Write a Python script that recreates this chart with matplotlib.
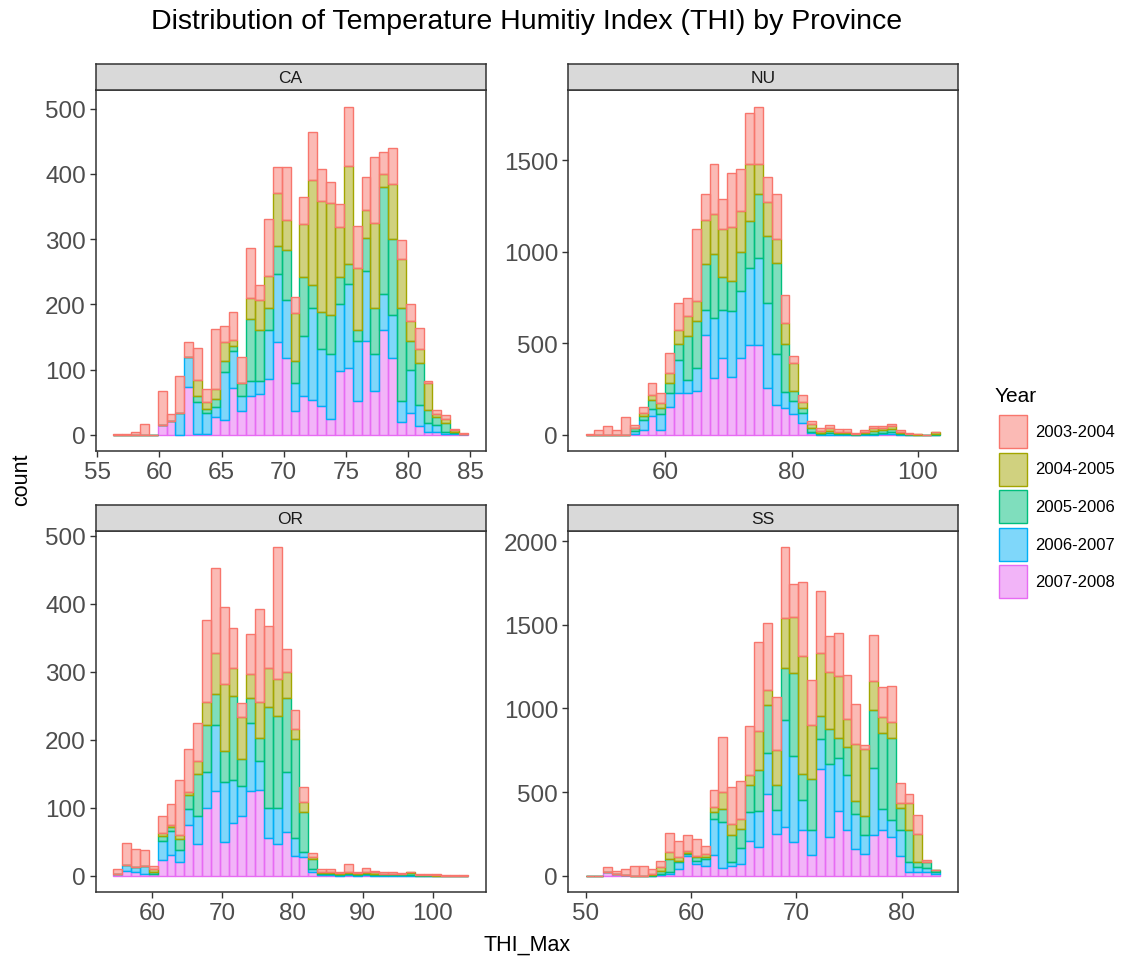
import numpy as np
import matplotlib.pyplot as plt
from matplotlib.colors import to_rgba
from matplotlib.patches import Rectangle

plt.rcParams['font.family'] = ['Liberation Sans', 'DejaVu Sans']

years = ['2003-2004', '2004-2005', '2005-2006', '2006-2007', '2007-2008']
colors = ['#F8766D', '#A3A500', '#00BF7D', '#00B0F6', '#E76BF3']

# 40 bins per province, counts per year
ca_range = (56.3, 84.8)
ca_0304 = [2, 1, 5, 16, 0, 53, 10, 58, 23, 49, 20, 93, 24, 42, 40, 76, 22, 88, 41, 81,
           25, 42, 74, 48, 32, 36, 91, 64, 51, 101, 34, 55, 28, 26, 33, 2, 6, 5, 2, 2]
ca_0405 = [0, 0, 0, 0, 0, 0, 0, 0, 0, 25, 10, 15, 30, 9, 1, 32, 46, 48, 81, 46,
           74, 81, 160, 170, 172, 76, 150, 96, 42, 130, 20, 85, 75, 31, 21, 42, 5, 7, 2, 0]
ca_0506 = [0, 0, 0, 0, 0, 0, 0, 0, 0, 8, 7, 13, 16, 9, 20, 96, 78, 34, 43, 77,
           34, 91, 35, 57, 59, 41, 31, 16, 51, 71, 164, 116, 143, 44, 64, 20, 12, 14, 2, 0]
ca_0607 = [0, 0, 0, 0, 0, 0, 0, 33, 46, 49, 31, 14, 74, 56, 23, 23, 21, 75, 103, 89,
           43, 92, 141, 87, 99, 103, 128, 92, 107, 56, 56, 66, 32, 67, 33, 13, 11, 2, 1, 0]
ca_0708 = [0, 0, 0, 0, 0, 15, 22, 0, 73, 2, 2, 28, 23, 72, 36, 59, 62, 86, 143, 118,
           36, 59, 54, 45, 25, 98, 103, 52, 144, 68, 160, 118, 20, 33, 13, 5, 4, 2, 2, 1]

nu_range = (47.4, 103.5)
nu_0304 = [4, 27, 46, 27, 100, 15, 35, 65, 53, 110, 145, 101, 393, 142, 271, 164, 298, 228, 278, 314,
           135, 250, 152, 36, 37, 19, 17, 18, 15, 18, 4, 12, 9, 11, 12, 12, 4, 2, 2, 3]
nu_0405 = [0, 0, 0, 0, 0, 3, 14, 30, 29, 51, 80, 110, 110, 241, 219, 262, 296, 224, 311, 161,
           188, 128, 115, 152, 33, 21, 10, 15, 7, 7, 2, 7, 15, 8, 13, 7, 2, 1, 0, 10]
nu_0506 = [0, 0, 0, 0, 0, 15, 27, 50, 31, 57, 85, 240, 256, 252, 350, 182, 164, 215, 255, 351,
           365, 499, 260, 55, 27, 19, 5, 13, 6, 4, 2, 5, 17, 17, 15, 4, 2, 1, 0, 3]
nu_0607 = [0, 0, 0, 0, 0, 15, 54, 35, 88, 73, 180, 70, 125, 132, 329, 260, 362, 365, 424, 478,
           463, 278, 91, 73, 55, 9, 3, 7, 3, 3, 1, 2, 3, 7, 13, 3, 1, 1, 0, 2]
nu_0708 = [0, 0, 0, 0, 0, 7, 25, 105, 27, 155, 230, 230, 240, 548, 311, 420, 314, 420, 490, 490,
           259, 164, 146, 113, 64, 9, 2, 2, 2, 1, 0, 1, 2, 3, 5, 1, 0, 0, 0, 0]

or_range = (54.5, 105.0)
or_0304 = [6, 33, 27, 24, 4, 24, 31, 80, 64, 57, 121, 124, 114, 59, 21, 58, 137, 62, 194, 34,
           27, 22, 6, 3, 3, 2, 11, 2, 5, 2, 2, 2, 1, 1, 1, 1, 1, 1, 1, 1]
or_0405 = [0, 0, 0, 0, 4, 4, 3, 6, 5, 18, 34, 61, 98, 41, 61, 35, 52, 58, 54, 38,
           15, 15, 2, 2, 2, 1, 2, 1, 2, 2, 1, 1, 1, 1, 0, 0, 1, 0, 0, 0]
or_0506 = [1, 0, 0, 0, 3, 8, 5, 16, 20, 63, 69, 46, 46, 125, 40, 37, 34, 148, 136, 110,
           145, 59, 15, 2, 2, 2, 2, 2, 2, 2, 1, 1, 1, 3, 1, 1, 0, 0, 0, 0]
or_0607 = [0, 8, 7, 12, 1, 28, 36, 18, 23, 40, 52, 96, 89, 63, 45, 100, 43, 44, 52, 88,
           27, 7, 5, 1, 1, 1, 1, 1, 1, 1, 1, 1, 1, 1, 0, 0, 0, 0, 0, 0]
or_0708 = [2, 7, 5, 2, 2, 23, 30, 20, 75, 47, 100, 125, 49, 77, 87, 125, 126, 56, 47, 64,
           29, 27, 5, 1, 1, 0, 1, 0, 1, 0, 0, 0, 0, 0, 0, 0, 0, 0, 0, 0]

ss_range = (50.0, 83.64)
ss_0304 = [0, 0, 30, 20, 35, 60, 60, 30, 40, 112, 100, 94, 96, 50, 100, 330, 220, 228, 292, 532,
           404, 320, 420, 194, 440, 266, 374, 216, 254, 260, 234, 24, 276, 180, 216, 120, 54, 114, 16, 0]
ss_0405 = [0, 0, 0, 0, 0, 0, 0, 5, 25, 44, 20, 14, 10, 20, 30, 100, 66, 56, 60, 234,
           90, 210, 300, 340, 706, 328, 374, 340, 372, 170, 346, 404, 174, 94, 96, 32, 166, 166, 0, 0]
ss_0506 = [0, 0, 0, 0, 0, 0, 0, 5, 15, 80, 10, 6, 20, 10, 40, 80, 160, 116, 164, 246,
           284, 150, 314, 494, 160, 306, 140, 210, 120, 166, 74, 112, 346, 456, 494, 134, 190, 34, 36, 16]
ss_0607 = [0, 0, 0, 0, 0, 0, 0, 0, 5, 10, 40, 10, 20, 40, 216, 276, 24, 94, 170, 214,
           246, 140, 640, 516, 180, 146, 176, 440, 320, 334, 210, 114, 400, 130, 100, 150, 60, 30, 24, 10]
ss_0708 = [0, 0, 20, 10, 5, 0, 0, 0, 5, 10, 40, 120, 70, 60, 124, 44, 60, 70, 210, 170,
           490, 250, 290, 200, 270, 124, 640, 230, 384, 270, 160, 130, 244, 270, 230, 120, 20, 20, 20, 10]

panels = [
    ('CA', ca_range, [ca_0304, ca_0405, ca_0506, ca_0607, ca_0708],
     [55, 60, 65, 70, 75, 80, 85], [0, 100, 200, 300, 400, 500], (95.6, 91.3)),
    ('NU', nu_range, [nu_0304, nu_0405, nu_0506, nu_0607, nu_0708],
     [60, 80, 100], [0, 500, 1000, 1500], (567.8, 91.3)),
    ('OR', or_range, [or_0304, or_0405, or_0506, or_0607, or_0708],
     [60, 70, 80, 90, 100], [0, 100, 200, 300, 400, 500], (95.6, 532.0)),
    ('SS', ss_range, [ss_0304, ss_0405, ss_0506, ss_0607, ss_0708],
     [50, 60, 70, 80], [0, 500, 1000, 1500, 2000], (567.8, 532.0)),
]

W, H = 1137, 962
fig = plt.figure(figsize=(W / 100, H / 100), dpi=100)
PW, PH, SH = 390, 361, 26
dark = '#333333'


def px_axes(x0, y0, w, h):
    return fig.add_axes([x0 / W, 1 - (y0 + h) / H, w / W, h / H])


for name, (lo, hi), series, xt, yt, (x0, y0) in panels:
    ax = px_axes(x0, y0, PW, PH)
    edges = np.linspace(lo, hi, 41)
    bottom = np.zeros(40)
    # 2007-2008 at the bottom of the stack, 2003-2004 on top
    for counts, col in zip(series[::-1], colors[::-1]):
        counts = np.array(counts, dtype=float)
        ax.bar(edges[:-1], counts, width=np.diff(edges), bottom=bottom, align='edge',
               facecolor=to_rgba(col, 0.5), edgecolor=col, linewidth=1.0)
        bottom += counts
    pad = 0.05 * (hi - lo)
    ax.set_xlim(lo - pad, hi + pad)
    top = bottom.max()
    ax.set_ylim(-0.05 * top, 1.05 * top)
    ax.set_xticks(xt)
    ax.set_yticks(yt)
    ax.tick_params(direction='out', length=4, width=1, color=dark,
                   labelsize=17.5, labelcolor='#4D4D4D', pad=3)
    for s in ax.spines.values():
        s.set_color(dark)
        s.set_linewidth(1.1)

    st = px_axes(x0, y0 - SH, PW, SH)
    st.set_facecolor('#D9D9D9')
    st.set_xticks([])
    st.set_yticks([])
    for s in st.spines.values():
        s.set_color(dark)
        s.set_linewidth(1.1)
    st.text(0.5, 0.5, name, ha='center', va='center', fontsize=12.5, color='#1A1A1A',
            transform=st.transAxes)

fig.text(527 / W, 1 - 22 / H, 'Distribution of Temperature Humitiy Index (THI) by Province',
         ha='center', va='center', fontsize=20.5)
fig.text(22 / W, 1 - 480 / H, 'count', rotation=90, ha='center', va='center', fontsize=15.5)
fig.text(527 / W, 1 - 945 / H, 'THI_Max', ha='center', va='center', fontsize=15.5)

# legend
fig.text(995 / W, 1 - 396 / H, 'Year', ha='left', va='center', fontsize=15)
for k, (lab, col) in enumerate(zip(years, colors)):
    ky = 416 + k * 37.5
    fig.add_artist(Rectangle((999 / W, 1 - (ky + 33) / H), 28 / W, 33 / H,
                             transform=fig.transFigure, facecolor=to_rgba(col, 0.5),
                             edgecolor=col, linewidth=1.0))
    fig.text(1035 / W, 1 - (ky + 16.5) / H, lab, ha='left', va='center', fontsize=12)

fig.savefig('out.png', dpi=100)
